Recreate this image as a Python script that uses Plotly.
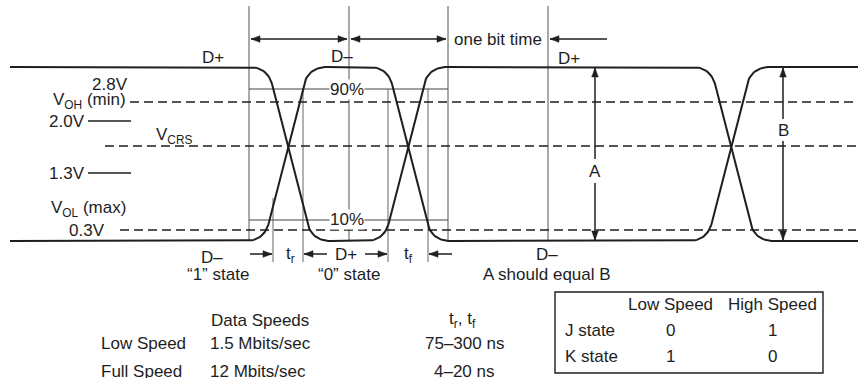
import math
import plotly.graph_objects as go

# ---- data (canvas units: x = time axis, y = signal axis, 0 at top) ----
W, H = 862, 378

level_high = 67          # D+/D- driven high
level_low = 241          # D+/D- driven low
signal_span = [10, 858]

bit_edges = [249, 349, 448, 548]        # full height timing markers
crossings = [288, 408, 731]             # centre of each differential transition
edge_marks = [273, 303, 388, 428]       # tr / tf measuring marks
edge_mark_tops = [198, 89, 89, 89]

threshold_names = ["VOH", "VCRS", "VOL"]
threshold_levels = [102, 146, 230]
threshold_starts = [130, 105, 120]
tick_levels = [121, 173]                # 2.0V and 1.3V ticks
pct_levels = [89, 220]                  # 90% and 10%

speed_rows = ["Low Speed", "Full Speed"]
speed_rates = ["1.5 Mbits/sec", "12 Mbits/sec"]
edge_times = ["75–300 ns", "4–20 ns"]

state_cols = ["Low Speed", "High Speed"]
state_rows = ["J state", "K state"]
state_vals = [[0, 1], [1, 0]]

FONT = "Liberation Sans, Arial, sans-serif"
FS = 17
INK = "#1e1e1e"


def bezier(p0, p1, p2, n=16):
    pts = []
    for i in range(n + 1):
        t = i / n
        x = (1 - t) ** 2 * p0[0] + 2 * (1 - t) * t * p1[0] + t * t * p2[0]
        y = (1 - t) ** 2 * p0[1] + 2 * (1 - t) * t * p1[1] + t * t * p2[1]
        pts.append((x, y))
    return pts


def edge(c, a, b, hw=41, knee=22):
    # rising edges lead a little so the pair crosses just above the midpoint
    c = c - 1.75 if b < a else c + 1.75
    L = math.hypot(2 * knee, b - a)
    ux, uy = 2 * knee / L, (b - a) / L
    d = hw - knee
    p1 = bezier((c - hw, a), (c - knee, a), (c - knee + d * ux, a + d * uy))
    p2 = bezier((c + knee - d * ux, b - d * uy), (c + knee, b), (c + hw, b))
    return p1 + p2


def waveform(start):
    lv = [level_high, level_low]
    state = start
    pts = [(signal_span[0], lv[state])]
    for c in crossings:
        pts += edge(c, lv[state], lv[1 - state])
        state = 1 - state
    pts.append((signal_span[1], lv[state]))
    return [p[0] for p in pts], [p[1] for p in pts]


fig = go.Figure()
for start in (0, 1):
    xs, ys = waveform(start)
    fig.add_trace(go.Scatter(x=xs, y=ys, mode="lines",
                             line=dict(color=INK, width=2), hoverinfo="skip"))

shapes = []


def seg(x0, y0, x1, y1, color=INK, width=1.5, dash=None):
    shapes.append(dict(type="line", x0=x0, y0=y0, x1=x1, y1=y1, xref="x", yref="y",
                       line=dict(color=color, width=width, dash=dash), layer="below"))


def head(x, y, dx, dy, length=9, half=3.3):
    # filled triangle with its tip at (x, y) pointing along (dx, dy)
    bx, by = x - dx * length, y - dy * length
    px, py = -dy * half, dx * half
    path = "M{:.1f},{:.1f} L{:.1f},{:.1f} L{:.1f},{:.1f} Z".format(
        x, y, bx + px, by + py, bx - px, by - py)
    shapes.append(dict(type="path", path=path, xref="x", yref="y",
                       fillcolor=INK, line=dict(color=INK, width=0.5)))


def arrow(x0, y0, x1, y1, both=False):
    seg(x0, y0, x1, y1, width=1.5)
    L = math.hypot(x1 - x0, y1 - y0)
    dx, dy = (x1 - x0) / L, (y1 - y0) / L
    head(x1, y1, dx, dy)
    if both:
        head(x0, y0, -dx, -dy)


# timing markers
for x in bit_edges:
    seg(x, 6, x, level_low, color="#555", width=1)
for x, top in zip(edge_marks, edge_mark_tops):
    seg(x, top, x, 262, color="#666", width=1)

# threshold levels
for lvl, x0 in zip(threshold_levels, threshold_starts):
    seg(x0, lvl, 856, lvl, width=1.6, dash="9px,5px")
for lvl in tick_levels:
    seg(88, lvl, 131, lvl, width=1.5)
for lvl in pct_levels:
    seg(bit_edges[0], lvl, bit_edges[2], lvl, color="#444", width=1.1)

# bit time arrows
arrow(bit_edges[0] + 2, 39, bit_edges[1] - 2, 39, both=True)
arrow(bit_edges[1] + 2, 39, bit_edges[2] - 2, 39, both=True)
arrow(607, 39, bit_edges[3] + 2, 39)

# tr / tf arrows
arrow(250, 254, edge_marks[0] - 1, 254)
arrow(327, 254, edge_marks[1] + 1, 254)
arrow(365, 254, edge_marks[2] - 1, 254)
arrow(452, 254, edge_marks[3] + 1, 254)

# amplitude arrows A and B
arrow(595, 159, 595, level_high + 1)
arrow(595, 183, 595, level_low - 1)
arrow(783, 119, 783, level_high + 1)
arrow(783, 141, 783, level_low - 1)

# J/K table frame
shapes.append(dict(type="rect", x0=555, y0=292, x1=823, y1=373, xref="x", yref="y",
                   line=dict(color=INK, width=1.4)))

ann = []


def label(x, y, text, anchor="center", bg=None):
    ann.append(dict(x=x, y=y, xref="x", yref="y", text=text, showarrow=False,
                    xanchor=anchor, yanchor="middle",
                    font=dict(family=FONT, size=FS, color=INK),
                    bgcolor=bg, borderpad=0))


label(213, 57, "D+")
label(342, 56, "D–")
label(498, 39, "one bit time")
label(569, 58, "D+")

label(110, 84, "2.8V")
label(127, 101, "V<sub>OH</sub> (min)", "right")
label(86, 121, "2.0V", "right")
label(155, 136, "V<sub>CRS</sub>", "left")
label(86, 173, "1.3V", "right")
label(50, 209, "V<sub>OL</sub> (max)", "left")
label(68, 230, "0.3V", "left")

label(347, 89, "90%", bg="white")
label(347, 219, "10%", bg="white")
label(595, 171, "A")
label(783, 130, "B")

label(212, 257, "D–")
label(218, 274, "“1” state")
label(290, 255, "t<sub>r</sub>")
label(346, 254, "D+")
label(408, 255, "t<sub>f</sub>")
label(349, 274, "“0” state")
label(547, 254, "D–")
label(547, 274, "A should equal B")

label(210, 320, "Data Speeds", "left")
label(462, 320, "t<sub>r</sub>, t<sub>f</sub>")
for i, (name, rate, t) in enumerate(zip(speed_rows, speed_rates, edge_times)):
    y = 343 + i * 28
    label(100, y, name, "left")
    label(209, y, rate, "left")
    label(464, y, t)

col_x = [670, 772]
for x, name in zip(col_x, state_cols):
    label(x, 304, name)
for i, (name, vals) in enumerate(zip(state_rows, state_vals)):
    y = 330 + i * 26
    label(564, y, name, "left")
    for x, v in zip(col_x, vals):
        label(x, y, str(v))

fig.update_layout(
    width=W, height=H, margin=dict(l=0, r=0, t=0, b=0),
    paper_bgcolor="white", plot_bgcolor="white", showlegend=False,
    xaxis=dict(range=[0, W], visible=False, fixedrange=True),
    yaxis=dict(range=[H, 0], visible=False, fixedrange=True),
    shapes=shapes, annotations=ann,
)

# the page body carries a default 8px margin; drop it so the chart sits at the origin
fig.write_html("out.html", config={"displayModeBar": False},
               post_script="document.body.style.margin='0';"
                           "document.body.style.overflow='hidden';")
